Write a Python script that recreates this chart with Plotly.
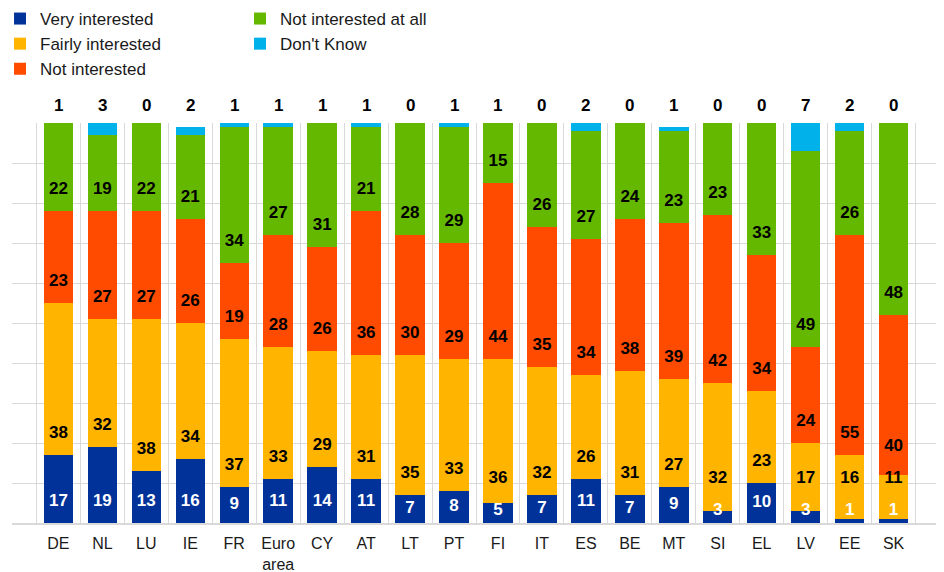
import plotly.graph_objects as go

countries = ["DE", "NL", "LU", "IE", "FR", "Euro<br>area", "CY", "AT", "LT", "PT",
             "FI", "IT", "ES", "BE", "MT", "SI", "EL", "LV", "EE", "SK"]

very_interested = [17, 19, 13, 16, 9, 11, 14, 11, 7, 8, 5, 7, 11, 7, 9, 3, 10, 3, 1, 1]
fairly_interested = [38, 32, 38, 34, 37, 33, 29, 31, 35, 33, 36, 32, 26, 31, 27, 32, 23, 17, 16, 11]
not_interested = [23, 27, 27, 26, 19, 28, 26, 36, 30, 29, 44, 35, 34, 38, 39, 42, 34, 24, 55, 40]
not_at_all = [22, 19, 22, 21, 34, 27, 31, 21, 28, 29, 15, 26, 27, 24, 23, 23, 33, 49, 26, 48]
dont_know = [1, 3, 0, 2, 1, 1, 1, 1, 0, 1, 1, 0, 2, 0, 1, 0, 0, 7, 2, 0]

FONT = "Arial, Liberation Sans, sans-serif"

series = [
    ("Very interested", very_interested, "#003299", "white", "legend"),
    ("Fairly interested", fairly_interested, "#FFB400", "black", "legend"),
    ("Not interested", not_interested, "#FF4B00", "black", "legend"),
    ("Not interested at all", not_at_all, "#65B800", "black", "legend2"),
    ("Don't Know", dont_know, "#00B1EA", "black", "legend2"),
]

fig = go.Figure()

for name, vals, color, _, lg in series:
    fig.add_trace(go.Bar(
        x=countries, y=vals, name=name, marker_color=color,
        marker_line_width=0, legend=lg, hoverinfo="skip",
    ))

# segment labels: a little above each segment's base, kept apart from the one below
base = [0] * len(countries)
prev = [-10] * len(countries)
for name, vals, color, tcol, lg in series[:4]:
    ys = []
    for i, v in enumerate(vals):
        y = base[i] + max(min(v / 2, 5.25), 3)
        y = max(y, prev[i] + 8)
        ys.append(y)
    fig.add_trace(go.Scatter(
        x=countries, y=ys, mode="text", text=[str(v) for v in vals],
        textfont=dict(family=FONT, size=17, color=tcol, weight="bold"),
        showlegend=False, hoverinfo="skip", cliponaxis=False,
    ))
    base = [b + v for b, v in zip(base, vals)]
    prev = ys

# "Don't Know" values shown above the plot
for c, v in zip(countries, dont_know):
    fig.add_annotation(x=c, y=100, yshift=18, text=str(v), showarrow=False,
                       font=dict(family=FONT, size=17, color="black", weight="bold"))

fig.update_layout(
    width=944, height=572,
    barmode="stack", bargap=0.33,
    plot_bgcolor="white", paper_bgcolor="white",
    margin=dict(l=4, r=12, t=115, b=57, autoexpand=False),
    font=dict(family=FONT, size=16, color="#1a1a1a"),
    legend=dict(x=-0.0129, y=1.305, xanchor="left", yanchor="top",
                font=dict(size=17), traceorder="normal", tracegroupgap=0,
                bgcolor="rgba(0,0,0,0)"),
    legend2=dict(x=0.2457, y=1.305, xanchor="left", yanchor="top",
                 font=dict(size=17), traceorder="normal", tracegroupgap=0,
                 bgcolor="rgba(0,0,0,0)"),
    xaxis=dict(tickson="boundaries", showgrid=True, gridcolor="#d9d9d9",
               gridwidth=1, ticks="", showline=True, linecolor="#d9d9d9",
               linewidth=2, tickangle=0, ticklabelstandoff=5,
               tickfont=dict(size=16, color="#1a1a1a")),
    yaxis=dict(range=[0, 100], dtick=10, showgrid=True, gridcolor="#d9d9d9",
               showticklabels=False, zeroline=False, ticks=""),
)

fig.write_html("out.html")
